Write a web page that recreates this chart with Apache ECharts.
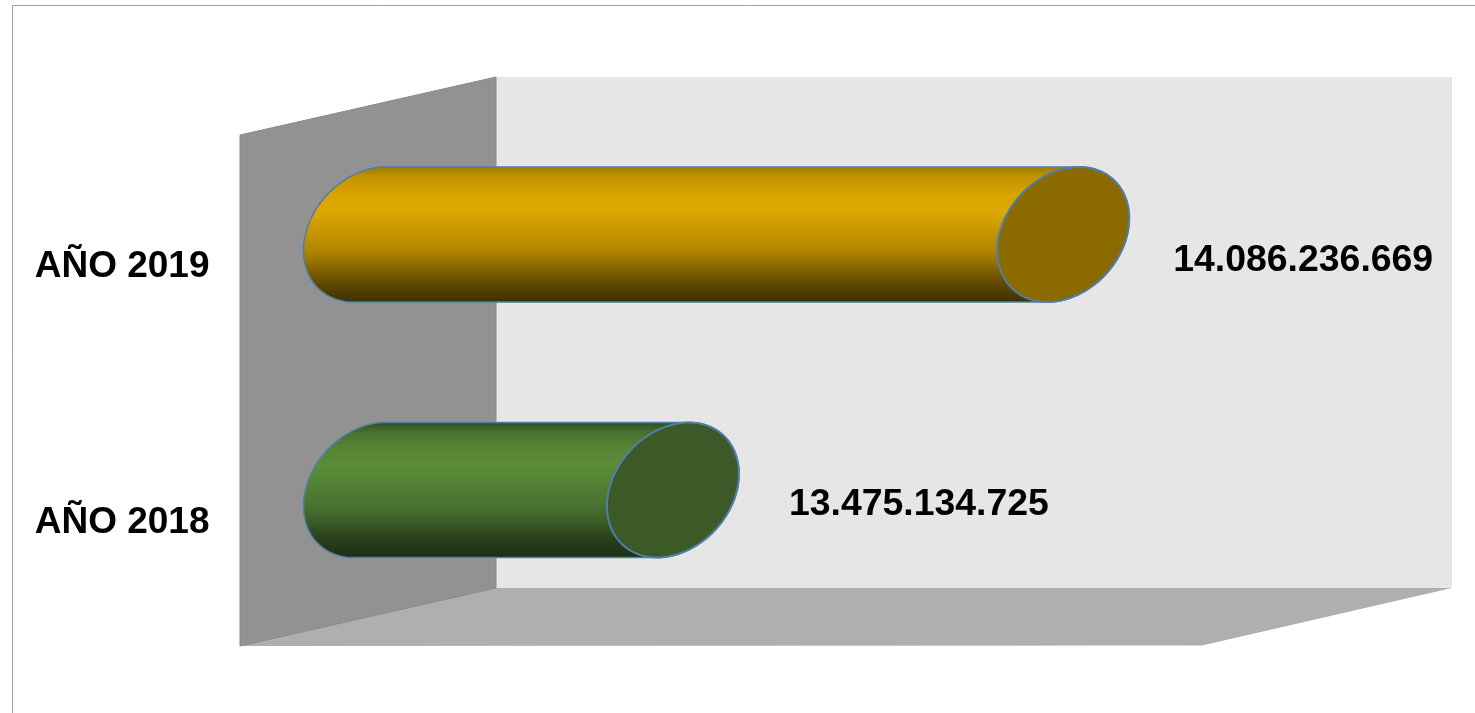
<!DOCTYPE html>
<html>
<head>
<meta charset="utf-8">
<style>html,body{margin:0;padding:0;background:#fff}#c{width:1475px;height:713px}</style>
<script src="https://cdn.jsdelivr.net/npm/echarts@6/dist/echarts.min.js"></script>
</head>
<body>
<div id="c"></div>
<script>
const categories = ['AÑO 2018', 'AÑO 2019'];
const values = [13475134725, 14086236669];
const bodyStops = [
  [[0,'#2f4a20'],[0.08,'#4a722e'],[0.2,'#578534'],[0.32,'#5b8c37'],[0.62,'#4a7230'],[0.87,'#283e1a'],[1,'#1d2c13']],
  [[0,'#9d7700'],[0.08,'#c49400'],[0.2,'#d8a300'],[0.32,'#dfa900'],[0.62,'#b08500'],[0.87,'#5d4700'],[1,'#3d2e00']]
];
const capColors = ['#3b5a27', '#8b6a00'];
const edgeColor = '#4f7fa8';
const labelOffsets = [[116, 15], [110, 26.5]];

const fmt = v => String(v).replace(/\B(?=(\d{3})+(?!\d))/g, '.');
const W = 66, H = 67.5, PHI = Math.acos(0.24);

function arc(cx, cy, from, to, n) {
  const pts = [];
  for (let i = 0; i <= n; i++) {
    const t = from + (to - from) * i / n;
    pts.push([cx + W * Math.cos(t), cy - H * Math.cos(t - PHI)]);
  }
  return pts;
}

function renderItem(params, api) {
  const i = api.value(1);
  const end = api.coord([api.value(0), i]);
  const base = api.coord([13000000000, i]);
  const body = arc(end[0], end[1], PHI, PHI - Math.PI, 60)
    .concat(arc(base[0], base[1], PHI - Math.PI, PHI - 2 * Math.PI, 60));
  const cap = arc(end[0], end[1], 0, 2 * Math.PI, 120);
  return {
    type: 'group',
    children: [
      { type: 'polygon', shape: { points: body },
        style: { fill: { type: 'linear', x: 0, y: 0, x2: 0, y2: 1,
          colorStops: bodyStops[i].map(s => ({ offset: s[0], color: s[1] })) },
          stroke: edgeColor, lineWidth: 1.5 } },
      { type: 'polygon', shape: { points: cap },
        style: { fill: capColors[i], stroke: edgeColor, lineWidth: 2 } },
      { type: 'text',
        style: { x: end[0] + labelOffsets[i][0], y: end[1] + labelOffsets[i][1],
          text: fmt(api.value(0)), fill: '#000', align: 'left', verticalAlign: 'middle',
          font: 'bold 37.4px "Liberation Sans", Arial, sans-serif' } }
    ]
  };
}

const chart = echarts.init(document.getElementById('c'), null, { renderer: 'canvas' });
chart.setOption({
  animation: false,
  backgroundColor: '#ffffff',
  grid: { left: 369.5, top: 106.75, width: 958, height: 511 },
  xAxis: { type: 'value', min: 13000000000, max: 14500000000, show: false },
  yAxis: { type: 'category', data: categories,
    axisLine: { show: false }, axisTick: { show: false }, splitLine: { show: false },
    axisLabel: { margin: 160, color: '#000', align: 'right', verticalAlign: 'top',
      padding: [14, 0, 0, 0], lineHeight: 37,
      fontFamily: '"Liberation Sans", Arial, sans-serif', fontWeight: 'bold', fontSize: 37 } },
  graphic: { elements: [
    { type: 'rect', silent: true, z: -10, shape: { x: 12.5, y: 5.5, width: 1500, height: 760 },
      style: { fill: '#fff', stroke: '#a0a0a0', lineWidth: 1 } },
    { type: 'polygon', silent: true, z: -9, shape: { points: [[496,77],[1452,77],[1452,588],[496,588]] },
      style: { fill: '#e6e6e6' } },
    { type: 'polygon', silent: true, z: -8, shape: { points: [[496,588],[1452,588],[1202,645.5],[240,646]] },
      style: { fill: '#afafaf' } },
    { type: 'polygon', silent: true, z: -7, shape: { points: [[240,135],[496,77],[496,588],[240,646]] },
      style: { fill: '#929292', stroke: '#8a8a8a', lineWidth: 1 } }
  ] },
  series: [{
    type: 'custom', renderItem, clip: false, silent: true,
    encode: { x: 0, y: 1 },
    data: values.map((v, i) => [v, i])
  }]
});
</script>
</body>
</html>
